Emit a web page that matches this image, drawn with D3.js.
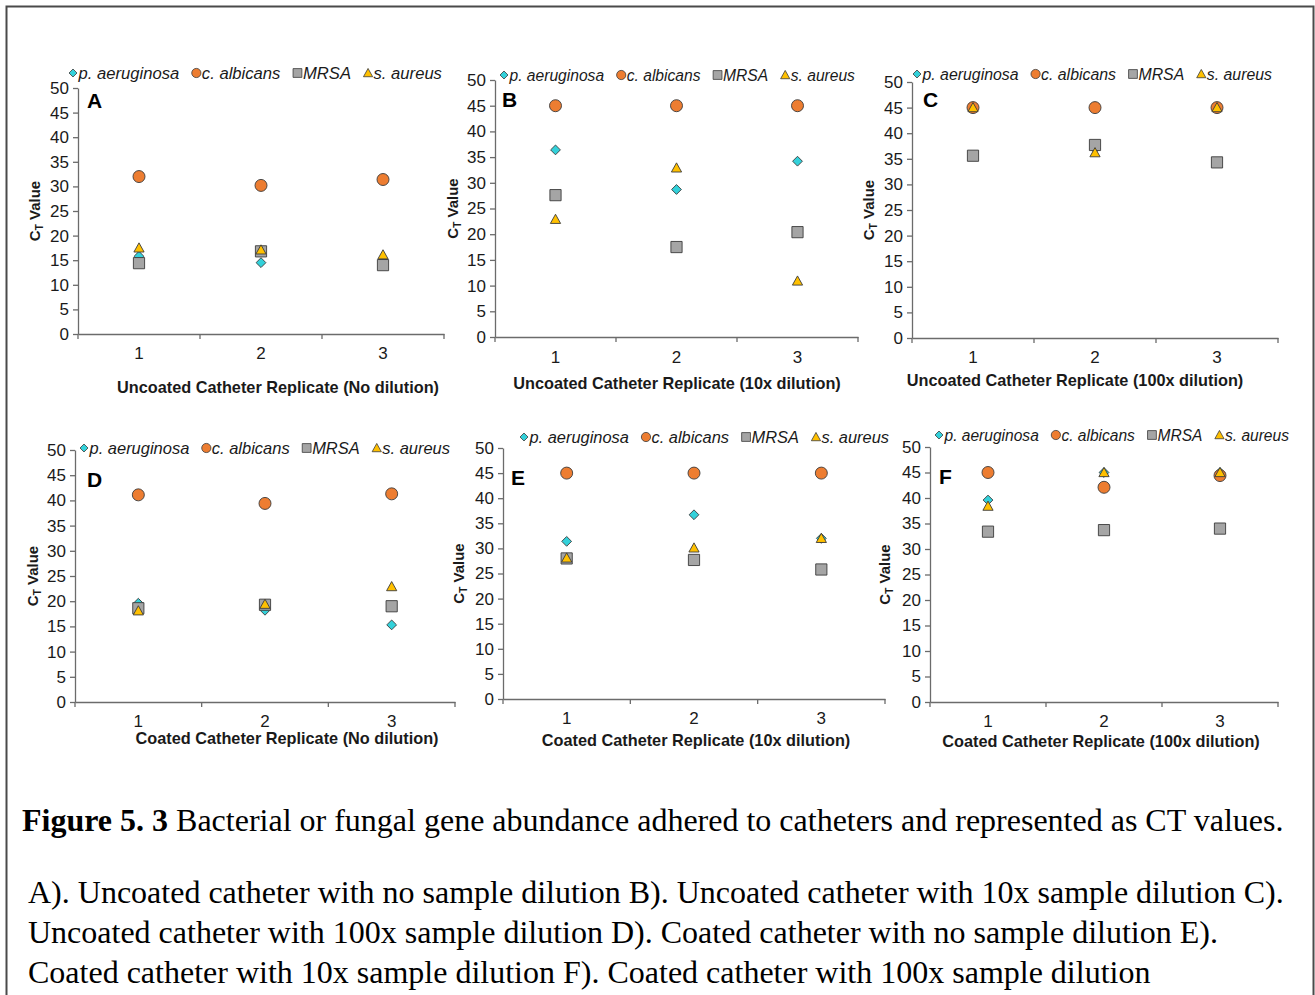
<!DOCTYPE html>
<html>
<head>
<meta charset="utf-8">
<script src="https://cdn.jsdelivr.net/npm/d3@7"></script>
<style>
  body { margin: 0; background: #fff; }
  svg { display: block; }
</style>
</head>
<body>
<svg id="fig" width="1315" height="995"></svg>
<script>
// ---- data -------------------------------------------------------------
const replicates = ["1", "2", "3"];
const seriesNames = ["p. aeruginosa", "c. albicans", "MRSA", "s. aureus"];
const yTicks = [0, 5, 10, 15, 20, 25, 30, 35, 40, 45, 50];
const panelLetters = ["A", "B", "C", "D", "E", "F"];
const xTitles = [
  "Uncoated Catheter Replicate (No dilution)",
  "Uncoated Catheter Replicate (10x dilution)",
  "Uncoated Catheter Replicate (100x dilution)",
  "Coated Catheter Replicate (No dilution)",
  "Coated Catheter Replicate (10x dilution)",
  "Coated Catheter Replicate (100x dilution)"
];

// CT values per panel, one row per series in legend order
// (p. aeruginosa, c. albicans, MRSA, s. aureus), one column per replicate
const valuesA = [[15.8, 14.5, 14.8], [32.0, 30.2, 31.4], [14.4, 16.8, 14.0], [17.5, 17.1, 16.1]];
const valuesB = [[36.4, 28.7, 34.2], [45.0, 45.0, 45.0], [27.6, 17.5, 20.4], [22.9, 32.9, 10.9]];
const valuesC = [[45.0, 37.0, 45.0], [45.0, 45.0, 45.0], [35.6, 37.7, 34.3], [45.0, 36.2, 45.0]];
const valuesD = [[19.6, 18.2, 15.3], [41.1, 39.4, 41.3], [18.6, 19.3, 19.0], [18.1, 19.4, 22.9]];
const valuesE = [[31.4, 36.7, 32.0], [45.0, 45.0, 45.0], [28.0, 27.7, 25.8], [28.1, 30.1, 32.0]];
const valuesF = [[39.6, 45.0, 45.0], [45.0, 42.1, 44.4], [33.4, 33.7, 34.0], [38.4, 45.0, 45.0]];
const panelValues = [valuesA, valuesB, valuesC, valuesD, valuesE, valuesF];

const captionHead = "Figure 5. 3";
const captionTail = " Bacterial or fungal gene abundance adhered to catheters and represented as CT values.";
const captionLines = [
  "A). Uncoated catheter with no sample dilution B). Uncoated catheter with 10x sample dilution C).",
  "Uncoated catheter with 100x sample dilution D). Coated catheter with no sample dilution E).",
  "Coated catheter with 10x sample dilution F). Coated catheter with 100x sample dilution"
];

// ---- styling & layout -------------------------------------------------
const seriesFill = ["#33d1da", "#ed7d31", "#a5a5a5", "#ffc000"];
const markerStroke = "#3b3b3b";
const axisColor = "#6b6b6b";
const textColor = "#1a1a1a";
const sans = "'Liberation Sans', Arial, sans-serif";
const serif = "'Liberation Serif', 'Times New Roman', serif";

// plot box, legend and label placement for each panel
const frames = [
  { x0: 78,  x1: 444,  y0: 88,  y1: 334, lgX: 73,  lgY: 73,  lgW: 369, tickY: 359, titleX: 278,  titleY: 393, yTitleX: 35,  letX: 87,  letY: 108 },
  { x0: 495, x1: 858,  y0: 80,  y1: 337, lgX: 504, lgY: 75,  lgW: 351, tickY: 363, titleX: 677,  titleY: 389, yTitleX: 453, letX: 502, letY: 107 },
  { x0: 912, x1: 1278, y0: 82,  y1: 338, lgX: 917, lgY: 74,  lgW: 355, tickY: 363, titleX: 1075, titleY: 386, yTitleX: 869, letX: 923, letY: 107 },
  { x0: 75,  x1: 455,  y0: 450, y1: 702, lgX: 84,  lgY: 448, lgW: 366, tickY: 727, titleX: 287,  titleY: 744, yTitleX: 33,  letX: 87,  letY: 487 },
  { x0: 503, x1: 885,  y0: 448, y1: 699, lgX: 524, lgY: 437, lgW: 365, tickY: 724, titleX: 696,  titleY: 746, yTitleX: 459, letX: 511, letY: 485 },
  { x0: 930, x1: 1278, y0: 447, y1: 702, lgX: 939, lgY: 435, lgW: 350, tickY: 727, titleX: 1101, titleY: 747, yTitleX: 885, letX: 939, letY: 484 }
];

// marker outlines for each series: diamond, circle, square, triangle
function markerPath(kind, s) {
  if (kind === 0) return `M0,${-s}L${s},0L0,${s}L${-s},0Z`;
  if (kind === 1) { const p = d3.path(); p.arc(0, 0, s, 0, 2 * Math.PI); p.closePath(); return p.toString(); }
  if (kind === 2) return `M${-s},${-s}H${s}V${s}H${-s}Z`;
  const h = s * 1.8;
  return `M0,${-h * 0.55}L${s},${h * 0.45}L${-s},${h * 0.45}Z`;
}
const plotSize = [4.9, 6.0, 5.6, 5.1];
const legendSize = [4.0, 4.6, 4.4, 4.6];
const legendTextOffset = 5.5; // symbol centre to label start
const legendGap = 17;         // label end to next symbol centre

const svg = d3.select("#fig");
svg.append("rect").attr("width", 1315).attr("height", 995).attr("fill", "#fff");
svg.append("rect")
  .attr("x", 6.5).attr("y", 6.5).attr("width", 1307).attr("height", 1000)
  .attr("fill", "none").attr("stroke", "#4a4a4a").attr("stroke-width", 2);

frames.forEach((f, pi) => {
  const g = svg.append("g");
  const vals = panelValues[pi];

  const y = d3.scaleLinear().domain([0, 50]).range([f.y1, f.y0]);
  const x = d3.scaleBand().domain(replicates).range([f.x0, f.x1]).padding(0);

  // y axis
  const yAxis = g.append("g").attr("transform", `translate(${f.x0},0)`)
    .call(d3.axisLeft(y).tickValues(yTicks).tickSize(5).tickPadding(4).tickSizeOuter(0));
  yAxis.select(".domain").attr("stroke", axisColor).attr("stroke-width", 1.3);
  yAxis.selectAll(".tick line").attr("stroke", axisColor).attr("stroke-width", 1.3);
  yAxis.selectAll(".tick text").attr("fill", textColor)
    .style("font-family", sans).style("font-size", "17px");

  // x axis: labels at replicate centres, tick marks at category boundaries
  const xAxis = g.append("g").attr("transform", `translate(0,${f.y1})`)
    .call(d3.axisBottom(x).tickSize(0).tickPadding(0).tickSizeOuter(0));
  xAxis.select(".domain").attr("stroke", axisColor).attr("stroke-width", 1.3);
  xAxis.selectAll(".tick text").attr("fill", textColor)
    .attr("y", f.tickY - f.y1).attr("dy", null)
    .style("font-family", sans).style("font-size", "17px");
  const bounds = replicates.map(r => x(r)).concat([x(replicates[2]) + x.bandwidth()]);
  g.selectAll("line.xb").data(bounds).join("line")
    .attr("x1", d => d).attr("x2", d => d)
    .attr("y1", f.y1).attr("y2", f.y1 + 5)
    .attr("stroke", axisColor).attr("stroke-width", 1.3);

  // axis titles
  g.append("text").attr("x", f.titleX).attr("y", f.titleY)
    .attr("text-anchor", "middle").attr("fill", textColor)
    .style("font-family", sans).style("font-size", "16.3px").style("font-weight", "bold")
    .text(xTitles[pi]);
  const yc = (f.y0 + f.y1) / 2;
  const yt = g.append("text")
    .attr("transform", `translate(${f.yTitleX + 5},${yc}) rotate(-90)`)
    .attr("text-anchor", "middle").attr("fill", textColor)
    .style("font-family", sans).style("font-size", "15px").style("font-weight", "bold");
  yt.append("tspan").text("C");
  yt.append("tspan").attr("dy", 3).style("font-size", "10px").text("T");
  yt.append("tspan").attr("dy", -3).text(" Value");

  // panel letter
  g.append("text").attr("x", f.letX).attr("y", f.letY).attr("fill", "#000")
    .style("font-family", sans).style("font-size", "21px").style("font-weight", "bold")
    .text(panelLetters[pi]);

  // markers, drawn series by series so later series sit on top
  vals.forEach((row, si) => {
    g.selectAll(`path.s${si}`).data(row).join("path")
      .attr("class", `s${si}`)
      .attr("transform", (v, i) => `translate(${x(replicates[i]) + x.bandwidth() / 2},${y(v)})`)
      .attr("d", markerPath(si, plotSize[si]))
      .attr("fill", seriesFill[si]).attr("stroke", markerStroke).attr("stroke-width", 0.9);
  });

  // legend row across the top; label size chosen so the row spans lgW
  const lg = g.append("g").attr("transform", `translate(${f.lgX},${f.lgY})`);
  const baseFs = 16;
  const items = seriesNames.map((name, si) => {
    const it = lg.append("g");
    it.append("path").attr("d", markerPath(si, legendSize[si]))
      .attr("fill", seriesFill[si]).attr("stroke", markerStroke).attr("stroke-width", 0.8);
    const t = it.append("text").attr("x", legendTextOffset).attr("y", 5.5).attr("fill", textColor)
      .style("font-family", sans).style("font-size", baseFs + "px").style("font-style", "italic")
      .text(name);
    return { it, t, len: t.node().getComputedTextLength() };
  });
  const textSum = d3.sum(items, d => d.len);
  const k = (f.lgW - 4 * legendTextOffset - 3 * legendGap) / textSum;
  let cx = 0;
  items.forEach(d => {
    d.t.style("font-size", (baseFs * k) + "px");
    d.it.attr("transform", `translate(${cx},0)`);
    cx += legendTextOffset + d.len * k + legendGap;
  });
});

// caption
const cap = svg.append("g").style("font-family", serif).attr("fill", "#000");
const capT = cap.append("text").attr("x", 22).attr("y", 831).style("font-size", "32px");
capT.append("tspan").style("font-weight", "bold").text(captionHead);
capT.append("tspan").text(captionTail);
cap.selectAll("text.ln").data(captionLines).join("text")
  .attr("class", "ln")
  .attr("x", 28).attr("y", (d, i) => 903 + i * 40)
  .style("font-size", "32px")
  .text(d => d);
</script>
</body>
</html>
